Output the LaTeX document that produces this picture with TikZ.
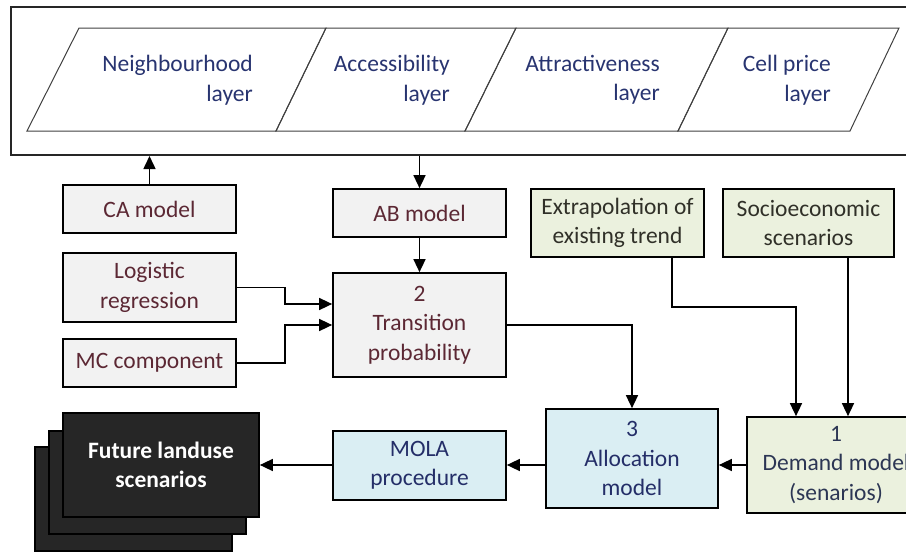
\documentclass[tikz,border=0pt]{standalone}
\usepackage{fontspec}
\setmainfont{Carlito}
\usetikzlibrary{arrows.meta}
\definecolor{layertext}{RGB}{40,52,112}
\definecolor{graytext}{RGB}{92,40,52}
\definecolor{greentext}{RGB}{48,48,40}
\definecolor{bluetext}{RGB}{36,46,104}
\definecolor{demtext}{RGB}{44,54,84}
\definecolor{grayfill}{RGB}{242,242,242}
\definecolor{greenfill}{RGB}{235,241,222}
\definecolor{bluefill}{RGB}{218,238,243}
\definecolor{darkfill}{RGB}{38,38,38}
\begin{document}
\begin{tikzpicture}[x=1pt,y=-1pt,
  every node/.style={font=\fontsize{23.5}{29.5}\selectfont, inner sep=0pt, align=center},
  box/.style={draw=black, line width=1.7pt, minimum width=173pt},
  graybox/.style={box, fill=grayfill, text=graytext},
  greenbox/.style={box, fill=greenfill, text=greentext},
  bluebox/.style={box, fill=bluefill, text=bluetext},
  darkbox/.style={draw=black, line width=1.7pt, fill=darkfill},
  layer/.style={draw=black!75, line width=1pt},
  layerlabel/.style={anchor=east, align=right, text=layertext},
  arr/.style={draw=black, line width=1.5pt, -{Triangle[length=13pt,width=12pt]}}]
\useasboundingbox (0,0) rectangle (906,552);

% outer frame with layers
\node[draw=black!85, line width=2pt, minimum width=904pt, minimum height=148pt] (outer) at (463,81) {};
\draw[layer] (79,28) -- (326,28) -- (276,131) -- (27,131) -- cycle;
\draw[layer] (326,28) -- (516,28) -- (465,131) -- (276,131) -- cycle;
\draw[layer] (516,28) -- (728,28) -- (678,131) -- (465,131) -- cycle;
\draw[layer] (728,28) -- (899,28) -- (850,131) -- (678,131) -- cycle;
\node[layerlabel] (l1) at (253,80) {Neighbourhood\\layer};
\node[layerlabel] (l2) at (450,80) {Accessibility\\layer};
\node[layerlabel] (l3) at (660,80) {Attractiveness\\layer};
\node[layerlabel] (l4) at (831,80) {Cell price\\layer};

% grey boxes
\node[graybox, minimum height=48pt] (ca) at (149.5,209) {CA model};
\node[graybox, minimum height=48pt] (ab) at (419.5,213) {AB model};
\node[graybox, minimum height=69pt] (logit) at (149.5,287.5) {Logistic\\regression};
\node[graybox, minimum height=48pt] (mc) at (149.5,363) {MC component};
\node[graybox, minimum height=104pt] (trans) at (419.5,325) {2\\Transition\\probability};

% green boxes
\node[greenbox, minimum height=68pt] (extrap) at (617.5,223) {Extrapolation of\\existing trend};
\node[greenbox, minimum width=171pt, minimum height=68pt] (socio) at (808.5,223) {Socioeconomic\\scenarios};
\node[greenbox, minimum width=178pt, minimum height=96pt, text=demtext] (demand) at (836,465) {1\\Demand model\\(senarios)};

% blue boxes
\node[bluebox, minimum width=172pt, minimum height=99pt] (alloc) at (632,458.5) {3\\Allocation\\model};
\node[bluebox, minimum height=69pt] (mola) at (419.5,465.5) {MOLA\\procedure};

% future stack
\draw[darkbox] (35,447) rectangle (232,551);
\draw[darkbox] (49,431) rectangle (246,534);
\node[darkbox, minimum width=196pt, minimum height=104pt, text=white, font=\fontsize{23.5}{29.5}\selectfont\bfseries] (future) at (161,465) {Future landuse\\scenarios};

% connectors
\draw[arr] (ca.north) -- (ca.north |- outer.south);
\draw[arr] (ab.north |- outer.south) -- (ab.north);
\draw[arr] (ab.south) -- (trans.north);
\draw[arr] (logit.east) -- (285,0 |- logit.east) |- ([yshift=21pt]trans.west);
\draw[arr] (mc.east) -- (285,0 |- mc.east) |- (trans.west);
\draw[arr] (trans.east) -| (alloc.north);
\draw[arr] (672,0 |- extrap.south) -- (672,307) -| (796,0 |- demand.north);
\draw[arr] (848,0 |- socio.south) -- (848,0 |- demand.north);
\draw[arr] (demand.west) -- (demand.west -| alloc.east);
\draw[arr] (alloc.west |- demand.west) -- (mola.east |- demand.west);
\draw[arr] (mola.west |- demand.west) -- (future.east |- demand.west);
\end{tikzpicture}
\end{document}
